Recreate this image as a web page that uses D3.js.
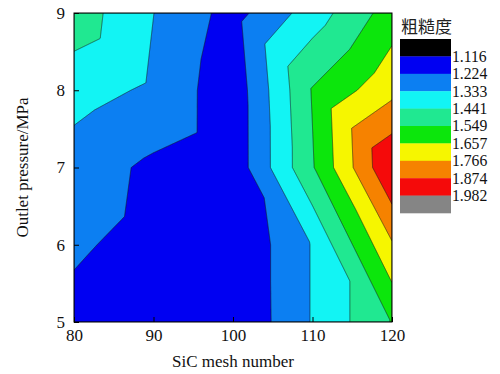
<!DOCTYPE html>
<html><head><meta charset="utf-8">
<script src="https://cdn.jsdelivr.net/npm/d3@7"></script>
<style>body{margin:0;background:#fff}svg{display:block}</style>
</head><body>
<svg id="chart" width="500" height="374"></svg>
<script>
// ---- data ----
const meshNumbers = [80, 90, 100, 110, 120];          // x grid
const outletPressures = [5, 6, 7, 8, 9];               // y grid (MPa)
// roughness per pressure row, one value per mesh number
const roughnessAt5MPa = [1.1975, 1.1527, 1.117, 1.340, 1.555];
const roughnessAt6MPa = [1.2369, 1.1924, 1.120, 1.340, 1.755];
const roughnessAt7MPa = [1.279, 1.2025, 1.149, 1.540, 1.982];
const roughnessAt8MPa = [1.378, 1.315, 1.150, 1.557, 1.735];
const roughnessAt9MPa = [1.503, 1.334, 1.183, 1.385, 1.600];
const contourLevels = [1.116, 1.224, 1.333, 1.441, 1.549, 1.657, 1.766, 1.874, 1.982];
const levelLabels = ["1.116", "1.224", "1.333", "1.441", "1.549", "1.657", "1.766", "1.874", "1.982"];
const bandColors = ["#000000", "#0000f2", "#0c7ff2", "#12f4f4", "#20e891", "#0ce60c", "#f6f600", "#f68200", "#f50a0a", "#858585"];
const xTickValues = [80, 90, 100, 110, 120];
const yTickValues = [5, 6, 7, 8, 9];
const legendTitle = "粗糙度";
const xTitle = "SiC mesh number";
const yTitle = "Outlet pressure/MPa";

// ---- layout ----
const svg = d3.select("#chart");
const X0 = 74, X1 = 392, Y0 = 13, Y1 = 322;
const x = d3.scaleLinear().domain([80, 120]).range([X0, X1]);
const y = d3.scaleLinear().domain([5, 9]).range([Y1, Y0]);
const serif = "'Liberation Serif','Times New Roman',serif";

const rows = [roughnessAt5MPa, roughnessAt6MPa, roughnessAt7MPa, roughnessAt8MPa, roughnessAt9MPa];

// piecewise-linear surface on a triangulated grid
function cellIndex(arr, v) {
  let i = d3.bisectRight(arr, v) - 1;
  return Math.max(0, Math.min(arr.length - 2, i));
}
function zAt(xv, yv) {
  const i = cellIndex(meshNumbers, xv), j = cellIndex(outletPressures, yv);
  const u = (xv - meshNumbers[i]) / (meshNumbers[i + 1] - meshNumbers[i]);
  const v = (yv - outletPressures[j]) / (outletPressures[j + 1] - outletPressures[j]);
  const zBL = rows[j][i], zBR = rows[j][i + 1], zTL = rows[j + 1][i], zTR = rows[j + 1][i + 1];
  if (u + v >= 1) return zTR + (1 - u) * (zTL - zTR) + (1 - v) * (zBR - zTR);
  return zBL + u * (zBR - zBL) + v * (zTL - zBL);
}

const S = 2;
const nx = Math.round((X1 - X0) * S), ny = Math.round((Y1 - Y0) * S);
const values = new Float64Array(nx * ny);
for (let j = 0; j < ny; j++) {
  const yv = y.invert(Y0 + (j + 0.5) / S);
  for (let i = 0; i < nx; i++) {
    values[j * nx + i] = zAt(x.invert(X0 + (i + 0.5) / S), yv);
  }
}
const contours = d3.contours().size([nx, ny]).thresholds(contourLevels)(values);
const path = d3.geoPath(d3.geoTransform({
  point(px, py) { this.stream.point(X0 + px / S, Y0 + py / S); }
}));

svg.append("defs").append("clipPath").attr("id", "plotclip")
  .append("rect").attr("x", X0).attr("y", Y0).attr("width", X1 - X0).attr("height", Y1 - Y0);

const plot = svg.append("g").attr("clip-path", "url(#plotclip)");
plot.append("rect").attr("x", X0).attr("y", Y0).attr("width", X1 - X0).attr("height", Y1 - Y0)
  .attr("fill", bandColors[0]);
plot.selectAll("path.band").data(contours).join("path")
  .attr("class", "band")
  .attr("d", path)
  .attr("fill", (d, k) => bandColors[k + 1])
  .attr("stroke", "#1a1a1a")
  .attr("stroke-width", 0.6)
  .attr("stroke-linejoin", "round");

// axes
const xAxis = svg.append("g").attr("transform", `translate(0,${Y1})`)
  .call(d3.axisBottom(x).tickValues(xTickValues).tickSize(-5).tickSizeOuter(0).tickPadding(7).tickFormat(d3.format("d")));
const yAxis = svg.append("g").attr("transform", `translate(${X0},0)`)
  .call(d3.axisLeft(y).tickValues(yTickValues).tickSize(-5).tickSizeOuter(0).tickPadding(9).tickFormat(d3.format("d")));
[xAxis, yAxis].forEach(g => {
  g.select(".domain").remove();
  g.selectAll(".tick line").attr("stroke", "#000").attr("stroke-width", 1);
  g.selectAll(".tick text").attr("font-family", serif).attr("font-size", 17).attr("fill", "#111");
});

svg.append("rect").attr("x", X0).attr("y", Y0).attr("width", X1 - X0).attr("height", Y1 - Y0)
  .attr("fill", "none").attr("stroke", "#000").attr("stroke-width", 1);

svg.append("text").attr("x", (X0 + X1) / 2).attr("y", 367).attr("text-anchor", "middle")
  .attr("font-family", serif).attr("font-size", 17).attr("fill", "#111").text(xTitle);
svg.append("text").attr("transform", `translate(28,${(Y0 + Y1) / 2}) rotate(-90)`).attr("text-anchor", "middle")
  .attr("font-family", serif).attr("font-size", 17).attr("fill", "#111").text(yTitle);

// legend
const LX = 400, LY = 39, LW = 51, LH = 17.4;
svg.append("text").attr("x", 401).attr("y", 33)
  .attr("font-family", "'Noto Sans CJK SC',sans-serif").attr("font-size", 17).attr("fill", "#222").text(legendTitle);
svg.selectAll("rect.leg").data(bandColors).join("rect").attr("class", "leg")
  .attr("x", LX).attr("y", (d, k) => LY + k * LH).attr("width", LW).attr("height", LH + 0.3)
  .attr("fill", d => d);
svg.selectAll("text.leglab").data(levelLabels).join("text").attr("class", "leglab")
  .attr("x", LX + LW + 1).attr("y", (d, k) => LY + (k + 1) * LH).attr("dy", "0.35em")
  .attr("font-family", serif).attr("font-size", 15.7).attr("fill", "#111").text(d => d);
</script>
</body></html>
